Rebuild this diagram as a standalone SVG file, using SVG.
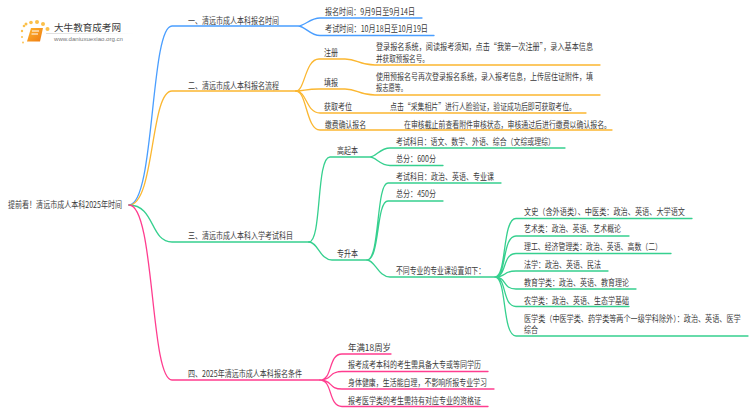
<svg xmlns="http://www.w3.org/2000/svg" width="750" height="410" viewBox="0 0 750 410">
<style>
text{font-family:"Noto Sans CJK SC","Liberation Sans",sans-serif;font-size:8.6px;fill:#3a3a3a}
.c{fill:none;stroke-width:1.3;stroke-linecap:round}
.b{stroke:#4a9eff}.o{stroke:#fbb731}.g{stroke:#36d08f}.p{stroke:#ff3d8f}
</style>
<defs>
<linearGradient id="bk" x1="0" y1="0" x2="1" y2="1"><stop offset="0" stop-color="#ffb52e"/><stop offset="1" stop-color="#ee7a10"/></linearGradient>
<linearGradient id="rl" x1="0" y1="0" x2="1" y2="0"><stop offset="0" stop-color="#ddd"/><stop offset="1" stop-color="#fff"/></linearGradient>
</defs>
<rect width="750" height="410" fill="#fff"/>
<g id="connectors">
<path class="c b" d="M129 205C155 205 150 26 172 26H298C305 26 310 18 320 18H422M298 26C305 26 310 35.500 320 35.500H434"/>
<path class="c o" d="M129 205C155 205 150 91 172 91H296"/>
<path class="c o" d="M296 91C305 91 305 59 319 59H345C358 59 358 65 375 65H600"/>
<path class="c o" d="M296 91C305 91 305 89 319 89H345C358 89 358 95 375 95H600"/>
<path class="c o" d="M296 91C307 91 306 113 320 113H586"/>
<path class="c o" d="M296 91C307 91 306 130 320 130H612"/>
<path class="c g" d="M129 205C155 205 150 242 172 242H309"/>
<path class="c g" d="M309 242C322 242 316 157 330 157H370C376 157 380 148 390 148H565M370 157C376 157 380 165.500 390 165.500H443"/>
<path class="c g" d="M309 242C318 242 320 260 332 260H367"/>
<path class="c g" d="M367 260C380 260 376 183 388 183H501M367 260C380 260 376 201 388 201H443M367 260C375 260 378 277 390 277H495"/>
<path class="c g" d="M495 277C507 277 502 218.500 516 218.500H692M495 277C507 277 502 236 516 236H629M495 277C507 277 502 253.500 516 253.500H671M495 277C507 277 502 271 516 271H608M495 277C507 277 502 289 516 289H636M495 277C507 277 502 306.500 516 306.500H629M495 277C507 277 502 336 516 336H748"/>
<path class="c p" d="M129 205C155 205 150 380 172 380H320"/>
<path class="c p" d="M320 380C333 380 328 354 342 354H391M320 380C333 380 328 371.500 342 371.500H488M320 380C333 380 328 389 342 389H494M320 380C333 380 328 406.500 342 406.500H488"/>
</g>
<g id="logo">
<g fill="#fbc04a"><circle cx="24" cy="26" r="1.300"/><circle cx="26" cy="24" r="1.500"/><circle cx="31" cy="22.500" r="1.800"/><circle cx="37" cy="22" r="2"/><circle cx="43" cy="24" r="2"/><circle cx="47.500" cy="29" r="2"/><circle cx="22" cy="31" r="1.200"/><circle cx="22" cy="37" r="1"/><circle cx="23" cy="42.500" r=".9"/></g>
<path d="M31 28H43L40 41.500H27Z" fill="url(#bk)"/><path d="M32 31H39M31.500 34H38" stroke="#fff" stroke-width="1"/>
<text x="54" y="31" textLength="67" lengthAdjust="spacingAndGlyphs" style="font-size:9.600px">大牛教育成考网</text>
<rect x="46" y="33" width="88" height="1" fill="url(#rl)"/>
<text x="54" y="41" textLength="69" lengthAdjust="spacingAndGlyphs" style="font-size:5.500px;fill:#777;font-family:'Liberation Sans',sans-serif">www.daniuxuexiao.org.cn</text>
</g>
<g id="root"><text x="8" y="208" textLength="114" lengthAdjust="spacingAndGlyphs">提前看！清远市成人本科2025年时间</text></g>
<g id="n1"><text x="188" y="24" textLength="91" lengthAdjust="spacingAndGlyphs">一、清远市成人本科报名时间</text></g>
<g id="n1-1"><text x="325" y="14.500" textLength="90" lengthAdjust="spacingAndGlyphs">报名时间：9月9日至9月14日</text></g>
<g id="n1-2"><text x="325" y="32" textLength="103" lengthAdjust="spacingAndGlyphs">考试时间：10月18日至10月19日</text></g>
<g id="n2"><text x="188" y="89" textLength="91" lengthAdjust="spacingAndGlyphs">二、清远市成人本科报名流程</text></g>
<g id="n2-1"><text x="324" y="55.500" textLength="14" lengthAdjust="spacingAndGlyphs">注册</text>
<text x="376" y="49.500" textLength="217" lengthAdjust="spacingAndGlyphs">登录报名系统，阅读报考须知，点击“我第一次注册”，录入基本信息</text>
<text x="376" y="61.500" textLength="53" lengthAdjust="spacingAndGlyphs">并获取预报名号。</text></g>
<g id="n2-2"><text x="324" y="85.500" textLength="14" lengthAdjust="spacingAndGlyphs">填报</text>
<text x="376" y="79.500" textLength="217" lengthAdjust="spacingAndGlyphs">使用预报名号再次登录报名系统，录入报考信息，上传居住证附件，填</text>
<text x="376" y="91" textLength="31" lengthAdjust="spacingAndGlyphs">报志愿等。</text></g>
<g id="n2-3"><text x="324" y="109.500" textLength="28" lengthAdjust="spacingAndGlyphs">获取考位</text>
<text x="390" y="109.500" textLength="186" lengthAdjust="spacingAndGlyphs">点击“采集相片”进行人脸验证，验证成功后即可获取考位。</text></g>
<g id="n2-4"><text x="325" y="127.500" textLength="41" lengthAdjust="spacingAndGlyphs">缴费确认报名</text>
<text x="404" y="127.500" textLength="207" lengthAdjust="spacingAndGlyphs">在审核截止前查看附件审核状态，审核通过后进行缴费以确认报名。</text></g>
<g id="n3"><text x="188" y="238.500" textLength="105" lengthAdjust="spacingAndGlyphs">三、清远市成人本科入学考试科目</text></g>
<g id="n3-1"><text x="337" y="153.500" textLength="21" lengthAdjust="spacingAndGlyphs">高起本</text></g>
<g id="n3-1-1"><text x="396" y="144.500" textLength="159" lengthAdjust="spacingAndGlyphs">考试科目：语文、数学、外语、综合（文综或理综）</text></g>
<g id="n3-1-2"><text x="396" y="162" textLength="40" lengthAdjust="spacingAndGlyphs">总分：600分</text></g>
<g id="n3-2"><text x="337" y="256.500" textLength="21" lengthAdjust="spacingAndGlyphs">专升本</text></g>
<g id="n3-2-1"><text x="396" y="179.500" textLength="98" lengthAdjust="spacingAndGlyphs">考试科目：政治、英语、专业课</text></g>
<g id="n3-2-2"><text x="396" y="197" textLength="40" lengthAdjust="spacingAndGlyphs">总分：450分</text></g>
<g id="n3-2-3"><text x="396" y="273.500" textLength="89" lengthAdjust="spacingAndGlyphs">不同专业的专业课设置如下：</text></g>
<g id="m1"><text x="524" y="214.500" textLength="161" lengthAdjust="spacingAndGlyphs">文史（含外语类）、中医类：政治、英语、大学语文</text></g>
<g id="m2"><text x="524" y="232" textLength="97" lengthAdjust="spacingAndGlyphs">艺术类：政治、英语、艺术概论</text></g>
<g id="m3"><text x="524" y="250" textLength="138" lengthAdjust="spacingAndGlyphs">理工、经济管理类：政治、英语、高数（二）</text></g>
<g id="m4"><text x="524" y="268" textLength="77" lengthAdjust="spacingAndGlyphs">法学：政治、英语、民法</text></g>
<g id="m5"><text x="524" y="285.500" textLength="105" lengthAdjust="spacingAndGlyphs">教育学类：政治、英语、教育理论</text></g>
<g id="m6"><text x="524" y="303.500" textLength="105" lengthAdjust="spacingAndGlyphs">农学类：政治、英语、生态学基础</text></g>
<g id="m7"><text transform="translate(524 321.500) scale(.828 1)">医学类（中医学类、药学类等两个一级学科除外）：政治、英语、医学</text>
<text x="524" y="333" textLength="14" lengthAdjust="spacingAndGlyphs">综合</text></g>
<g id="n4"><text x="188" y="376.500" textLength="114" lengthAdjust="spacingAndGlyphs">四、2025年清远市成人本科报名条件</text></g>
<g id="n4-1"><text x="348" y="350.500" textLength="43" lengthAdjust="spacingAndGlyphs">年满18周岁</text></g>
<g id="n4-2"><text x="348" y="368" textLength="133" lengthAdjust="spacingAndGlyphs">报考成考本科的考生需具备大专或等同学历</text></g>
<g id="n4-3"><text x="348" y="385.500" textLength="139" lengthAdjust="spacingAndGlyphs">身体健康，生活能自理，不影响所报专业学习</text></g>
<g id="n4-4"><text x="348" y="403.500" textLength="133" lengthAdjust="spacingAndGlyphs">报考医学类的考生需持有对应专业的资格证</text></g>
</svg>
